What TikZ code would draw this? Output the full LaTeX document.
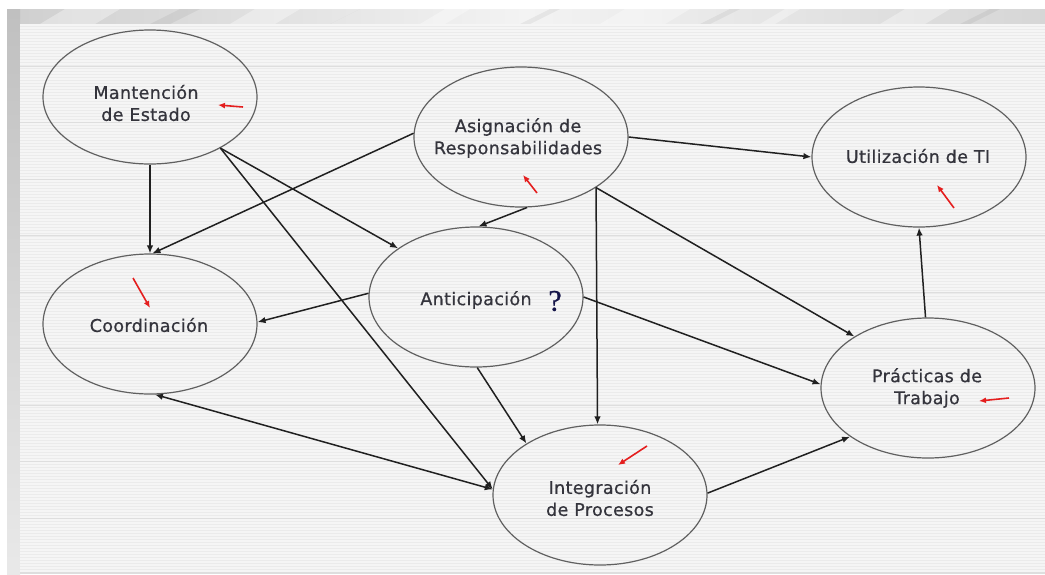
\documentclass[tikz,border=0pt]{standalone}
\usepackage{fontspec}
\usetikzlibrary{shapes.geometric,arrows.meta}
\newfontfamily\labelfont{DejaVu Sans}[FakeBold=0.7,LetterSpace=2]
\newfontfamily\markfont{Liberation Serif}[FakeBold=0.8]
\definecolor{paper}{HTML}{F5F5F5}
\definecolor{stripe}{HTML}{EBEBEB}
\definecolor{rule}{HTML}{DEDEDE}
\definecolor{bandgray}{HTML}{CFCFCF}
\definecolor{sidegray}{HTML}{DADADA}
\definecolor{ringgray}{HTML}{606060}
\definecolor{labelgray}{HTML}{34343C}
\definecolor{linkgray}{HTML}{202020}
\definecolor{cuered}{HTML}{E41E1E}
\definecolor{marknavy}{HTML}{141448}
\begin{document}
\begin{tikzpicture}[x=1pt,y=-1pt,
  concept/.style={ellipse, draw=ringgray, line width=1.2pt,
    minimum width=214pt, minimum height=140pt, inner sep=0pt},
  caption/.style={align=center, text=labelgray, inner sep=0pt,
    font=\labelfont\fontsize{17.5}{22}\selectfont},
  link/.style={draw=linkgray, line width=1.5pt,
    -{Latex[length=8pt,width=6.5pt]}},
  twoway/.style={draw=linkgray, line width=1.5pt,
    {Latex[length=8pt,width=6.5pt]}-{Latex[length=8pt,width=6.5pt]}},
  cue/.style={draw=cuered, line width=1.6pt,
    -{Latex[length=7pt,width=6pt]}}]

% canvas and frame
\useasboundingbox (0,0) rectangle (1045,574);
\fill[white] (0,0) rectangle (1045,574);
\shade[left color=bandgray, right color=bandgray!85!white, middle color=white!75!bandgray]
  (7,9) rectangle (1045,24);
\foreach \a/\b in {40/120,230/300,420/470,600/690,760/800,880/950}
  \fill[white,opacity=0.35] (\a,24) -- (\a+25,9) -- (\b,9) -- (\b-25,24) -- cycle;
\foreach \a/\b in {150/200,330/360,520/560,700/740,960/1000}
  \fill[black,opacity=0.05] (\a,24) -- (\a+30,9) -- (\b,9) -- (\b-30,24) -- cycle;
\shade[top color=sidegray!88!black, bottom color=sidegray!60!white] (7,9) rectangle (20,574);
\fill[paper] (20,24) rectangle (1045,572);
\foreach \y in {26,29,...,571}
  \draw[stripe, line width=0.8pt] (20,\y) -- (1045,\y);
\foreach \y in {66,122.5,...,560}
  \draw[rule, line width=1pt] (20,\y) -- (1045,\y);
\fill[rule] (20,572) rectangle (1045,574);

% concepts
\node[concept, minimum height=134pt] (mant) at (150,97) {};
\node[concept] (asig) at (521,137) {};
\node[concept] (util) at (919,157) {};
\node[concept] (coord) at (150,324) {};
\node[concept] (antic) at (476,297) {};
\node[concept] (prac) at (928,388) {};
\node[concept] (integ) at (600,495) {};

\node[caption] (mantT) at (146,103) {Mantención\\de Estado};
\node[caption] (asigT) at (518,138) {Asignación de\\Responsabilidades};
\node[caption] (utilT) at (918,156) {Utilización de TI};
\node[caption] (coordT) at (149,325) {Coordinación};
\node[caption] (anticT) at (476,300) {Anticipación};
\node[caption] (pracT) at (927,388) {Prácticas de\\Trabajo};
\node[caption] (integT) at (600,498) {Integración\\de Procesos};
\node[text=marknavy, font=\markfont\fontsize{30}{30}\selectfont] (quest) at (555,301) {?};

% influences
\draw[link] (mant) -- (coord);
\draw[link] (mant.-36) -- (antic.148);
\draw[link] (mant.-36) -- (integ.177);
\draw[twoway] (coord.-86) -- (integ.177);
\draw[link] (asig.178) -- (coord.88);
\draw[link] (asig.0) -- (util.180);
\draw[link] (asig.-85) -- (antic.88);
\draw[link] (asig.-34) -- (integ.92);
\draw[link] (asig.-34) -- (prac.145);
\draw[link] (antic.178) -- (coord.1);
\draw[link] (antic.0) -- (prac.178);
\draw[link] (antic.-89) -- (integ.145);
\draw[link] (integ.1) -- (prac.212);
\draw[link] (prac.92) -- (util.-90);

% red cue marks
\coordinate (m1) at (243,107); \coordinate (m2) at (218,105);
\coordinate (a1) at (537,193); \coordinate (a2) at (523,175);
\coordinate (u1) at (954,208); \coordinate (u2) at (937,185);
\coordinate (c1) at (133,278); \coordinate (c2) at (150,308);
\coordinate (p1) at (1009,398); \coordinate (p2) at (979,401);
\coordinate (i1) at (647,446); \coordinate (i2) at (618,465);
\draw[cue] (m1) -- (m2);
\draw[cue] (a1) -- (a2);
\draw[cue] (u1) -- (u2);
\draw[cue] (c1) -- (c2);
\draw[cue] (p1) -- (p2);
\draw[cue] (i1) -- (i2);
\end{tikzpicture}
\end{document}
